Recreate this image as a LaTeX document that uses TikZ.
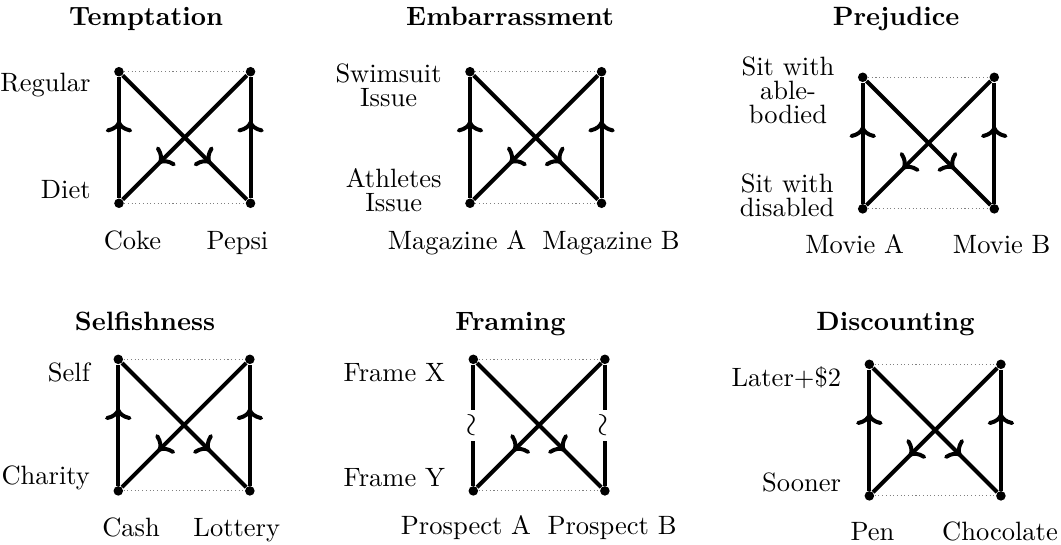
\documentclass[tikz,border=0pt]{standalone}
\usepackage{tikz}
\usetikzlibrary{arrows.meta, positioning, decorations.markings}

\begin{document}
\begin{tikzpicture}[
    vertex/.style={circle, fill, inner sep=0pt, minimum size=3.6pt},
    link/.style={line width=1.5pt},
    guide/.style={densely dotted, gray, line width=0.4pt},
    midarrow/.style={postaction={decorate, decoration={markings,
        mark=at position #1 with {\arrow[line width=1.5pt]{Computer Modern Rightarrow[length=4.5pt, width=10pt]}}}}},
    midarrow/.default=0.64,
    heading/.style={font=\bfseries, anchor=base},
    collbl/.style={anchor=base},
    rowtop/.style={inner sep=0pt, align=center, font=\fontsize{10}{9}\selectfont,
                   left=8.5pt of #1, yshift=-5pt},
    rowbot/.style={inner sep=0pt, align=center, font=\fontsize{10}{9}\selectfont,
                   left=8.5pt of #1, yshift=5pt}
]
  \useasboundingbox (0,0) rectangle (14.073,-7.216);

  % the six squares
  \foreach \i/\x/\y in {1/1.578/-0.951, 2/6.234/-0.951, 3/11.443/-1.025,
                        4/1.569/-4.766, 5/6.278/-4.766, 6/11.531/-4.832} {
    \node[vertex] (tl\i) at (\x, \y) {};
    \node[vertex] (tr\i) at (\x+1.745, \y) {};
    \node[vertex] (bl\i) at (\x, \y-1.745) {};
    \node[vertex] (br\i) at (\x+1.745, \y-1.745) {};
    \draw[guide] (tl\i) -- (tr\i);
    \draw[guide] (bl\i) -- (br\i);
    \draw[link, midarrow=0.71] (tl\i) -- (br\i);
    \draw[link, midarrow=0.71] (tr\i) -- (bl\i);
  }
  \foreach \i in {1,2,3,4,6} {
    \draw[link, midarrow] (bl\i) -- (tl\i);
    \draw[link, midarrow] (br\i) -- (tr\i);
  }
  % framing: no preference between frames
  \draw[link] (tl5) -- node[fill=white, inner sep=1.2pt, rotate=90, font=\large] (wl) {$\sim$} (bl5);
  \draw[link] (tr5) -- node[fill=white, inner sep=1.2pt, rotate=90, font=\large] (wr) {$\sim$} (br5);

  % titles
  \node[heading] (h1) at (1.937,-0.332) {Temptation};
  \node[heading] (h2) at (6.765,-0.332) {Embarrassment};
  \node[heading] (h3) at (11.885,-0.332) {Prejudice};
  \node[heading] (h4) at (1.923,-4.377) {Selfishness};
  \node[heading] (h5) at (6.771,-4.377) {Framing};
  \node[heading] (h6) at (11.878,-4.377) {Discounting};

  % row labels
  \node[rowtop=tl1] (t1) {Regular};
  \node[rowbot=bl1] (b1) {Diet};
  \node[rowtop=tl2] (t2) {Swimsuit\\Issue};
  \node[rowbot=bl2] (b2) {Athletes\\Issue};
  \node[rowtop=tl3] (t3) {Sit with\\able-\\bodied};
  \node[rowbot=bl3] (b3) {Sit with\\disabled};
  \node[rowtop=tl4] (t4) {Self};
  \node[rowbot=bl4] (b4) {Charity};
  \node[rowtop=tl5] (t5) {Frame X};
  \node[rowbot=bl5] (b5) {Frame Y};
  \node[rowtop=tl6] (t6) {Later+\$2};
  \node[rowbot=bl6] (b6) {Sooner};

  % column labels
  \node[collbl] (l1) at (1.757,-3.303) {Coke};
  \node[collbl] (r1) at (3.150,-3.303) {Pepsi};
  \node[collbl] (l2) at (6.062,-3.303) {Magazine A};
  \node[collbl] (r2) at (8.104,-3.303) {Magazine B};
  \node[collbl] (l3) at (11.337,-3.360) {Movie A};
  \node[collbl] (r3) at (13.287,-3.360) {Movie B};
  \node[collbl] (l4) at (1.738,-7.110) {Cash};
  \node[collbl] (r4) at (3.140,-7.110) {Lottery};
  \node[collbl] (l5) at (6.181,-7.096) {Prospect A};
  \node[collbl] (r5) at (8.118,-7.096) {Prospect B};
  \node[collbl] (l6) at (11.573,-7.163) {Pen};
  \node[collbl] (r6) at (13.264,-7.163) {Chocolate};
\end{tikzpicture}
\end{document}
